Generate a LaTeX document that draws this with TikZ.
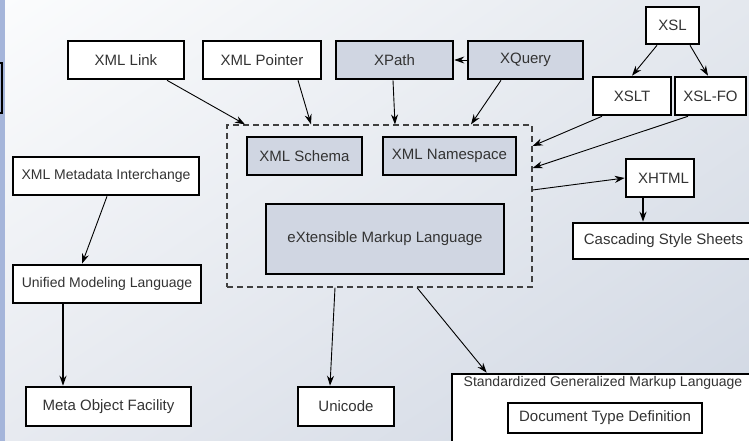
\documentclass[tikz,border=0pt]{standalone}
\usepackage{fontspec}
\setmainfont{Liberation Sans}
\usetikzlibrary{arrows.meta,calc,shadings}

\definecolor{boxfill}{RGB}{208,214,226}
\definecolor{txtgray}{RGB}{51,51,51}
\definecolor{stripblue}{RGB}{165,181,218}
\definecolor{bgul}{RGB}{251,252,253}
\definecolor{bgur}{RGB}{228,232,238}
\definecolor{bgll}{RGB}{231,234,240}
\definecolor{bglr}{RGB}{208,215,227}

\tikzset{every picture/.style={line width=0.75pt}}
\tikzset{
  box/.style={draw=black, line width=2.6pt, fill=white, inner sep=0pt, text=txtgray,
    font=\fontsize{15}{17}\selectfont},
  greybox/.style={box, fill=boxfill},
  smalltxt/.style={font=\fontsize{14}{16}\selectfont},
  groupbox/.style={draw=black!75, line width=1.2pt, dash pattern=on 6pt off 4pt, inner sep=0pt},
  conn/.style={draw=black, line width=0.9pt, -{Stealth[length=10pt,width=7pt]}},
  thickconn/.style={conn, line width=1.8pt}
}

\begin{document}
\begin{tikzpicture}[x=1pt,y=1pt,yscale=-1,xscale=1]
\useasboundingbox (0,0) rectangle (749,441);
\clip (0,0) rectangle (749,441);

%Background
\shade [upper left=bgul, upper right=bgur, lower left=bgll, lower right=bglr]
  (0,0) rectangle (749,441);
%Shape: left strip
\fill [stripblue] (0,0) rectangle (5,441);
\draw [line width=2pt] (-6,63) rectangle (1.5,113);

%Shape: Rectangle (dashed group)
\node [groupbox, minimum width=305, minimum height=162] (grp) at (379.5,206) {};

%Shape: Rectangle
\node [box, minimum width=116, minimum height=38] (link) at (126,60) {XML Link};
\node [box, minimum width=118, minimum height=38] (pointer) at (262,60) {XML Pointer};
\node [greybox, minimum width=117, minimum height=38] (xpath) at (394.5,60) {XPath};
\node [greybox, minimum width=115, minimum height=38] (xquery) at (525.5,60) {XQuery};
\node [box, minimum width=53, minimum height=37] (xsl) at (672.5,25.5) {XSL};
\node [box, minimum width=78, minimum height=38] (xslt) at (632,96) {XSLT};
\node [box, minimum width=71, minimum height=38] (xslfo) at (710.5,96) {XSL-FO};
\node [greybox, minimum width=115, minimum height=38] (schema) at (304.5,156) {XML Schema};
\node [greybox, minimum width=133, minimum height=38] (namespace) at (449.5,156) {XML Namespace};
\node [greybox, minimum width=238, minimum height=70] (xml) at (385,239) {eXtensible Markup Language};
\node [box, minimum width=68, minimum height=38, text width=58, align=right] (xhtml) at (660,178) {XHTML};
\node [box, minimum width=179, minimum height=36] (css) at (662.5,241) {\hspace{2pt}Cascading Style Sheets};
\node [box, smalltxt, minimum width=186, minimum height=38] (xmi) at (106,176) {XML Metadata Interchange\hspace{10pt}};
\node [box, smalltxt, minimum width=188, minimum height=38] (uml) at (107,284) {Unified Modeling Language\hspace{10pt}};
\node [box, minimum width=165, minimum height=39] (mof) at (108.5,406.5) {Meta Object Facility};
\node [box, minimum width=96, minimum height=39] (unicode) at (346,406.5) {Unicode};
\node [box, minimum width=300, minimum height=71] (sgml) at (602,409.5) {};
\node [text=txtgray, smalltxt, inner sep=0pt] (sgmltxt) at (603,383) {Standardized Generalized Markup Language};
\node [box, minimum width=194, minimum height=30] (dtd) at (605,418) {Document Type Definition};

%Straight Lines
\draw [conn] ($(link.south)+(41,0)$) -- ($(grp.north)+(-134.5,0)$);
\draw [conn] ($(pointer.south)+(36,0)$) -- ($(grp.north)+(-68.5,0)$);
\draw [conn] ($(xpath.south)+(-1.5,0)$) -- ($(grp.north)+(15.5,0)$);
\draw [conn] ($(xquery.south)+(-24.5,0)$) -- ($(grp.north)+(91.5,0)$);
\draw [conn] (xquery.west) -- (xpath.east);
\draw [conn] ($(xsl.south)+(-15.5,0)$) -- (xslt.north);
\draw [conn] ($(xsl.south)+(17.5,0)$) -- ($(xslfo.north)+(-2.5,0)$);
\draw [conn] ($(xslt.south)+(-30,0)$) -- ($(grp.east)+(0,-60)$);
\draw [conn] ($(xslfo.south)+(-22.5,0)$) -- ($(grp.east)+(0,-38)$);
\draw [conn] ($(grp.east)+(0,-16)$) -- (xhtml.west);
\draw [thickconn] ($(xhtml.south)+(-17,0)$) -- ($(css.north)+(-19.5,0)$);
\draw [conn] ($(xmi.south)+(1,0)$) -- ($(uml.north)+(-25,0)$);
\draw [thickconn] ($(uml.south)+(-44,0)$) -- ($(mof.north)+(-45.5,0)$);
\draw [conn] ($(grp.south)+(-44.5,0)$) -- ($(unicode.north)+(-16,0)$);
\draw [conn] ($(grp.south)+(37.5,0)$) -- ($(sgml.north west)+(36,0)$);

\end{tikzpicture}
\end{document}
